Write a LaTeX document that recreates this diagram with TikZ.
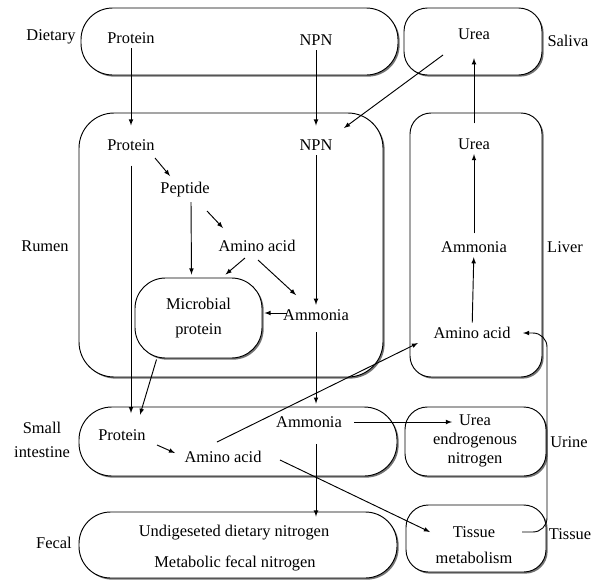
\documentclass[tikz,border=0pt]{standalone}
\usepackage{fontspec}
\setmainfont{Liberation Serif}
\usetikzlibrary{arrows,calc,fit,shadows}

\tikzset{
  box/.style={draw, fill=white, inner sep=0pt, thick,
    drop shadow={shadow xshift=1.4pt, shadow yshift=-1.4pt, opacity=1, fill=black!55}},
  txt/.style={inner sep=1pt, outer sep=3pt, align=center},
  tall/.style={font=\fontsize{14}{22}\selectfont},
  arr/.style={->, >=latex, thick},
}

\begin{document}
\begin{tikzpicture}[x=0.03cm, y=-0.03cm, font=\fontsize{14}{16.5}\selectfont]
\useasboundingbox (0,0) rectangle (592,581);

% compartments
\node[box, rounded corners=27pt, fit={(81,8) (398,75)}] (dietbox) {};
\node[box, rounded corners=20pt, fit={(404,8) (542,75)}] (salivabox) {};
\node[box, rounded corners=30pt, fit={(79,113) (383,377)}] (rumenbox) {};
\node[box, rounded corners=18pt, fit={(410,113) (542,377)}] (liverbox) {};
\node[box, rounded corners=28pt, fit={(79,407) (397,476)}] (sibox) {};
\node[box, rounded corners=19pt, fit={(405,407) (546,476)}] (urinebox) {};
\node[box, rounded corners=27pt, fit={(79,512) (397,578)}] (fecalbox) {};
\node[box, rounded corners=19pt, fit={(406,505) (546,572)}] (tissuebox) {};
\node[box, tall, rounded corners=26pt, align=center, minimum width=3.81cm, minimum height=2.4cm] (micro) at (198.5,318) {Microbial\\protein};

% side labels
\node[txt] (dietary) at (51,37) {Dietary};
\node[txt] (saliva) at (568,41) {Saliva};
\node[txt] (rumen) at (45,246) {Rumen};
\node[txt] (liver) at (565,247) {Liver};
\node[txt, font=\fontsize{14}{21}\selectfont] (small) at (42,440) {Small\\intestine};
\node[txt] (urine) at (569,442) {Urine};
\node[txt] (fecal) at (54,543) {Fecal};
\node[txt] (tissue) at (570,534) {Tissue};

% pools
\node[txt] (dprot) at (131,38) {Protein};
\node[txt] (dnpn) at (316,40) {NPN};
\node[txt] (surea) at (474,34) {Urea};
\node[txt] (rprot) at (131,145) {Protein};
\node[txt] (rnpn) at (316,145) {NPN};
\node[txt] (lurea) at (474,144) {Urea};
\node[txt] (pept) at (185,190) {Peptide};
\node[txt] (raa) at (257,246) {Amino acid};
\node[txt] (lamm) at (474,247) {Ammonia};
\node[txt] (ramm) at (316,315) {Ammonia};
\node[txt] (laa) at (472,333) {Amino acid};
\node[txt] (siprot) at (122,435) {Protein};
\node[txt] (siaa) at (223,457) {Amino acid};
\node[txt] (siamm) at (309,422) {Ammonia};
\node[txt, font=\fontsize{14}{16}\selectfont] (uen) at (475,441) {Urea\\endrogenous\\nitrogen};
\node[txt] (undig) at (234,533) {Undigeseted dietary nitrogen};
\node[txt] (metab) at (235,563) {Metabolic fecal nitrogen};
\node[txt, tall] (tissm) at (474,545) {Tissue\\metabolism};

% flows
\draw[arr, shorten >=8pt] (dprot) -- (rprot);
\draw[arr, shorten >=8pt] (dnpn) -- (rnpn);
\draw[arr] ($(surea)+(-31,21)$) -- ($(rnpn)+(28,-17)$);
\draw[arr, shorten <=9pt, shorten >=12pt] (lurea) -- (surea);
\draw[arr, shorten <=3pt] (lamm) -- (lurea);
\draw[arr] (laa) -- (lamm);
\draw[arr] ($(rprot)+(24,13)$) -- ($(pept)+(-15,-14)$);
\draw[arr, shorten <=9pt, shorten >=10pt] (rprot) -- (rprot |- siprot.north);
\draw[arr] ($(pept.south)+(6,0)$) -- ($(micro.north)+(-7,-3)$);
\draw[arr] ($(pept)+(22,21)$) -- ($(raa)+(-34,-18)$);
\draw[arr] ($(raa)+(-12,12)$) -- ($(micro.north)+(27,-3)$);
\draw[arr] ($(raa)+(1,14)$) -- ($(ramm)+(-20,-20)$);
\draw[arr] (rnpn) -- (ramm);
\draw[arr] ($(ramm.west)+(8,-2)$) -- ($(micro.east)+(2,-5)$);
\draw[arr] ($(micro.south)+(-42,1)$) -- ($(siprot.north)+(18,-10)$);
\draw[arr, shorten <=6pt, shorten >=7pt] (ramm) -- (ramm |- siamm.north);
\draw[arr] ($(siaa)+(-6,-15)$) -- ($(laa)+(-54,10)$);
\draw[arr] ($(siprot)+(35,10)$) -- ($(siaa)+(-48,-4)$);
\draw[arr] ($(siamm.east)+(8,0)$) -- ($(uen)+(-23,-19)$);
\draw[arr, shorten <=10pt] (ramm |- siamm.south) -- ($(ramm |- fecalbox.north)+(0,5)$);
\draw[arr] ($(siaa)+(57,3)$) -- ($(tissm)+(-44,-13)$);
\draw[arr, rounded corners=12pt] ($(tissm)+(48,-13)$) -| ($(laa)+(75,0)$) -- ($(laa)+(51,0)$);
\end{tikzpicture}
\end{document}
